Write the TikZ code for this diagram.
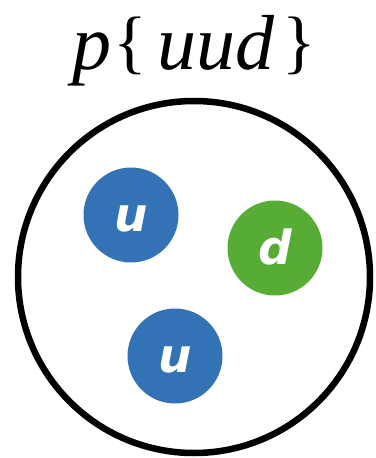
\documentclass[tikz,border=0pt]{standalone}
\usepackage{fontspec}
\newfontfamily\quarkfont{DejaVu Sans}
\newfontfamily\namefont{Liberation Serif}
\usepackage{tikz}

\definecolor{upblue}{RGB}{51,114,181}
\definecolor{downgreen}{RGB}{86,172,52}

\newcommand{\bracefont}{\upshape\fontsize{70}{70}\selectfont}

\tikzset{
	quark/.style={circle, minimum size=95pt, inner sep=0pt, text=white,
		text height=33pt, text depth=0pt,
		font=\fontsize{47}{47}\selectfont\quarkfont\bfseries\itshape},
	up/.style={quark, fill=upblue},
	down/.style={quark, fill=downgreen}
}

\begin{document}
\begin{tikzpicture}[x=1pt,y=-1pt]
	\useasboundingbox (0,0) rectangle (375,458);
	\node[anchor=base, inner sep=0pt, font=\fontsize{78}{78}\selectfont\namefont\itshape] (name) at (194,69)
		{p\kern2pt{\bracefont\raisebox{4pt}{\{}}\kern10pt uud\kern8pt{\bracefont\raisebox{4pt}{\}}}};
	\node[circle, draw, line width=6.5pt, minimum size=352pt, inner sep=0pt] (proton) at (194,277) {};
	\node[up] (u1) at (131,215) {u};
	\node[down] (d) at (275,248) {d};
	\node[up] (u2) at (175,356) {u};
\end{tikzpicture}
\end{document}
